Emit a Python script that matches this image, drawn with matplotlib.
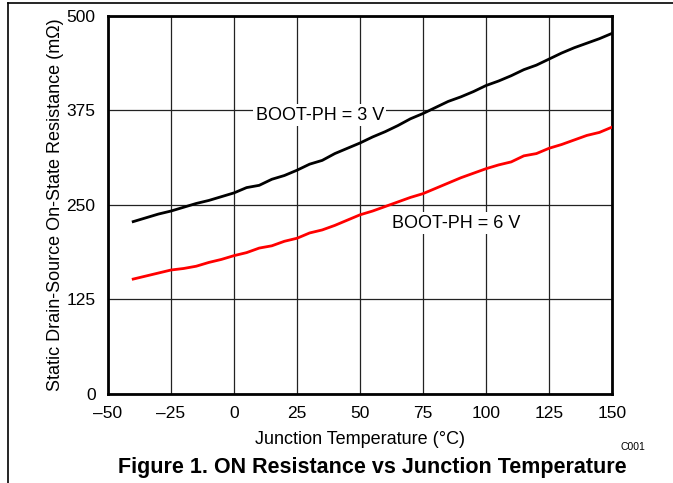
import matplotlib
matplotlib.use('Agg')
import matplotlib.pyplot as plt
from matplotlib.lines import Line2D

plt.rcParams['font.family'] = ['Liberation Sans', 'DejaVu Sans']

# junction temperature (C)
temps = [-40, -35, -30, -25, -20, -15, -10, -5, 0, 5, 10, 15, 20, 25, 30, 35, 40, 45,
         50, 55, 60, 65, 70, 75, 80, 85, 90, 95, 100, 105, 110, 115, 120, 125, 130,
         135, 140, 145, 150]
# on resistance (mOhm)
r_3v = [228, 233, 238, 242, 247, 252, 256, 261, 266, 273, 276, 284, 289, 296, 304,
        309, 318, 325, 332, 340, 347, 355, 364, 371, 379, 387, 393, 400, 408, 414,
        421, 429, 435, 443, 451, 458, 464, 470, 477]
r_6v = [152, 156, 160, 164, 166, 169, 174, 178, 183, 187, 193, 196, 202, 206, 213,
        217, 223, 230, 237, 242, 248, 254, 260, 265, 272, 279, 286, 292, 298, 303,
        307, 315, 318, 325, 330, 336, 342, 346, 353]

xticks = [-50, -25, 0, 25, 50, 75, 100, 125, 150]
xlabels = ['\u201350', '\u201325', '0', '25', '50', '75', '100', '125', '150']
yticks = [0, 125, 250, 375, 500]

fig = plt.figure(figsize=(6.73, 4.83), dpi=100)
ax = fig.add_axes([0.1605, 0.1843, 0.7489, 0.7826])

ax.plot(temps, r_3v, color='black', lw=2, zorder=3)
ax.plot(temps, r_6v, color='#ff0000', lw=2, zorder=3)

ax.set_xlim(-50, 150)
ax.set_ylim(0, 500)
ax.set_xticks(xticks)
ax.set_xticklabels(xlabels)
ax.set_yticks(yticks)
ax.tick_params(length=0, labelsize=12.5, pad=9)
ax.grid(True, color='#222222', lw=0.9)
ax.set_axisbelow(True)
for s in ax.spines.values():
    s.set_linewidth(2)

ax.set_xlabel('Junction Temperature (\u00b0C)', fontsize=13, labelpad=6.5)
ax.set_ylabel('Static Drain-Source On-State Resistance (m\u03a9)', fontsize=13, labelpad=1.5)

box = dict(facecolor='white', edgecolor='none', pad=1.5)
ax.text(34, 369, 'BOOT-PH = 3 V', fontsize=13, ha='center', va='center', bbox=box, zorder=2)
ax.text(88, 226, 'BOOT-PH = 6 V', fontsize=13, ha='center', va='center', bbox=box, zorder=2)

fig.text(633 / 673, 1 - 447 / 483, 'C001', fontsize=7.5, ha='center', va='center')
fig.text(372 / 673, 1 - 467 / 483, 'Figure 1. ON Resistance vs Junction Temperature',
         fontsize=15.5, fontweight='bold', ha='center', va='center')

# page frame, left and top edges only
fig.add_artist(Line2D([8 / 673, 8 / 673], [0, 1 - 3 / 483], color='black', lw=1.2))
fig.add_artist(Line2D([8 / 673, 1], [1 - 3 / 483, 1 - 3 / 483], color='black', lw=1.2))

fig.savefig('out.png', dpi=100)
